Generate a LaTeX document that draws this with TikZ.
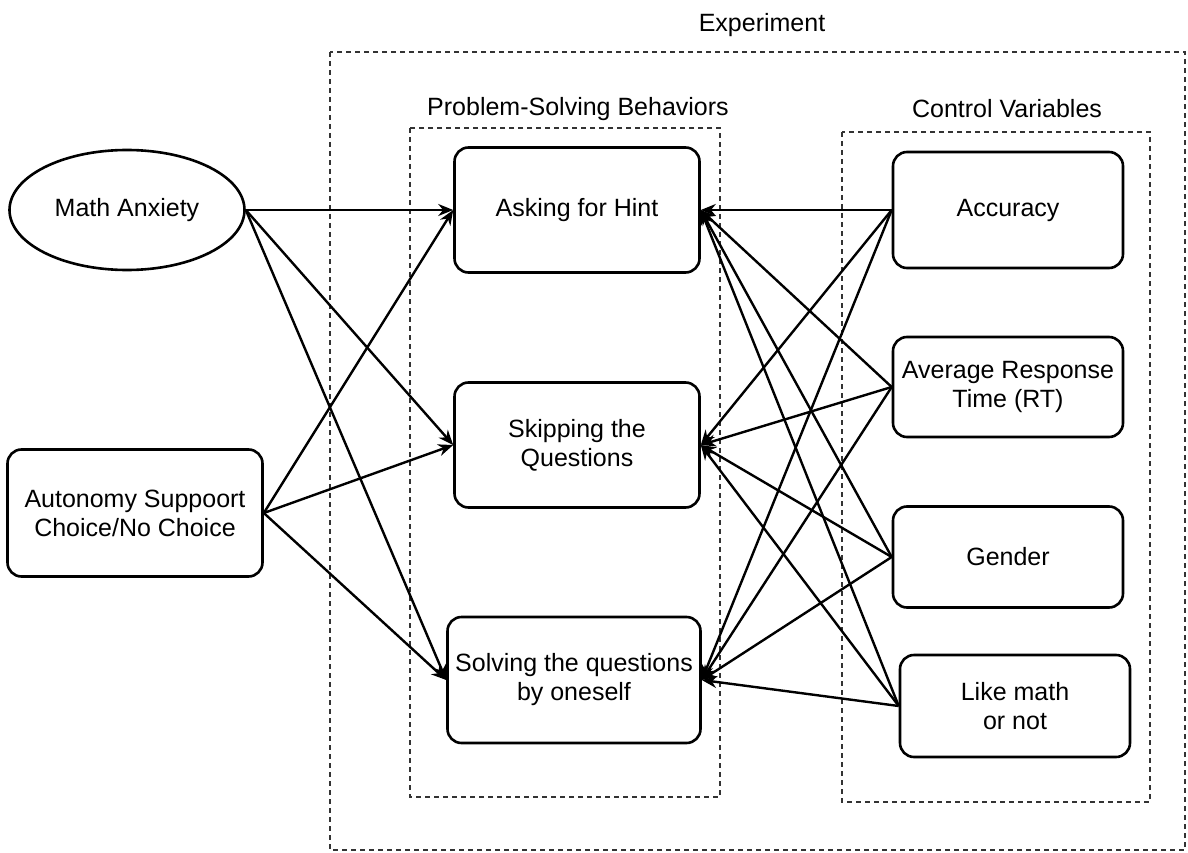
\documentclass[tikz,border=0pt]{standalone}
\usepackage{fontspec}
\setmainfont{Liberation Sans}
\usetikzlibrary{shapes.geometric,arrows.meta}

\begin{document}
\begin{tikzpicture}[x=1pt,y=-1pt,
    box/.style={draw, rectangle, rounded corners=14pt, line width=2.6pt, align=center, inner sep=0pt, font=\fontsize{25}{29}\selectfont},
    group/.style={draw=black!80, line width=1.8pt, dash pattern=on 5pt off 4pt},
    label/.style={font=\fontsize{25}{29}\selectfont},
    arr/.style={-{Stealth[length=15pt,width=12pt]}, line width=2.4pt}]
    \useasboundingbox (0,0) rectangle (1188,853);

    % groups
    \draw[group] (330,52) rectangle (1185,850);
    \draw[group] (410,128) rectangle (720,797);
    \draw[group] (842,132) rectangle (1150,802);
    \node[label] (explabel) at (762,25) {Experiment};
    \node[label] (psblabel) at (578,109) {Problem-Solving Behaviors};
    \node[label] (cvlabel) at (1007,109) {Control Variables};

    % predictors
    \node[draw, ellipse, line width=2.6pt, minimum width=235pt, minimum height=120pt, inner sep=0pt, font=\fontsize{25}{29}\selectfont] (mathanx) at (127,210) {Math Anxiety};
    \node[box, minimum width=255pt, minimum height=127pt] (autonomy) at (135,513) {Autonomy Suppoort\\Choice/No Choice};

    % behaviors
    \node[box, minimum width=245pt, minimum height=125pt] (hint) at (577,210) {Asking for Hint};
    \node[box, minimum width=245pt, minimum height=125pt] (skip) at (577,445) {Skipping the\\Questions};
    \node[box, minimum width=253pt, minimum height=126pt] (solve) at (574,680) {Solving the questions\\by oneself};

    % control variables
    \node[box, minimum width=230pt, minimum height=116pt] (accuracy) at (1008,210) {Accuracy};
    \node[box, minimum width=230pt, minimum height=100pt] (avgrt) at (1008,387) {Average Response\\Time (RT)};
    \node[box, minimum width=230pt, minimum height=101pt] (gender) at (1008,557) {Gender};
    \node[box, minimum width=230pt, minimum height=102pt] (likemath) at (1015,706) {Like math\\or not};

    % arrows
    \foreach \dst in {hint,skip,solve} {
        \draw[arr] (mathanx.east) -- (\dst.west);
        \draw[arr] (autonomy.east) -- (\dst.west);
    }
    \foreach \src in {accuracy,avgrt,gender,likemath}
        \foreach \dst in {hint,skip,solve}
            \draw[arr] (\src.west) -- (\dst.east);

\end{tikzpicture}
\end{document}
